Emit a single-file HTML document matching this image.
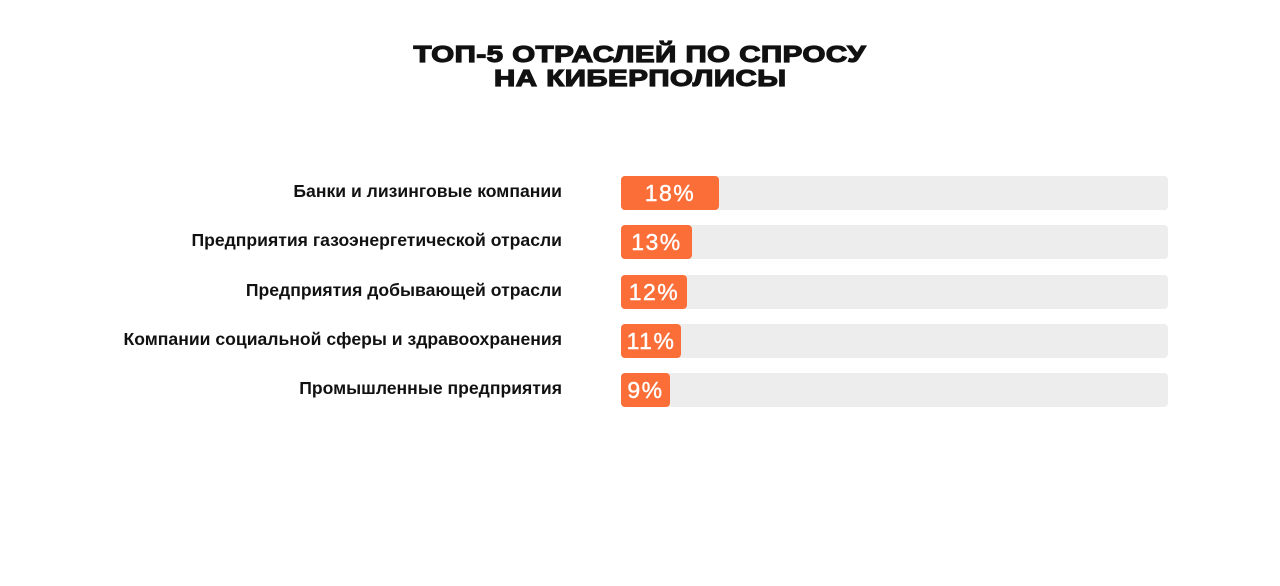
<!DOCTYPE html>
<html><head><meta charset="utf-8"><style>
body{margin:0;width:1280px;height:586px;background:#fff;font-family:"Liberation Sans",sans-serif;position:relative;overflow:hidden}
.t{position:absolute;left:0;width:1280px;text-align:center;font-weight:900;font-size:23px;color:#111;line-height:24px;-webkit-text-stroke:1.2px #111;letter-spacing:0.4px}
.t span{display:inline-block;transform:scaleX(1.28)}
.l{position:absolute;right:718px;font-weight:bold;font-size:17.6px;color:#111;white-space:nowrap;line-height:20px}
.tr{position:absolute;left:621px;width:547px;height:34px;background:#ededed;border-radius:4px}
.b{position:absolute;left:621px;height:34px;background:#fb6e38;border-radius:4px;color:#fff;font-size:23px;line-height:34px;text-align:center;letter-spacing:1.5px;-webkit-text-stroke:0.4px #fff}
</style></head><body>
<div class="t" style="top:42px"><span>ТОП-5 ОТРАСЛЕЙ ПО СПРОСУ</span></div>
<div class="t" style="top:66px"><span>НА КИБЕРПОЛИСЫ</span></div>

<div class="l" style="top:181px">Банки и лизинговые компании</div>
<div class="tr" style="top:176px"></div><div class="b" style="top:176px;width:98px">18%</div>

<div class="l" style="top:230px">Предприятия газоэнергетической отрасли</div>
<div class="tr" style="top:225px"></div><div class="b" style="top:225px;width:71px">13%</div>

<div class="l" style="top:280px">Предприятия добывающей отрасли</div>
<div class="tr" style="top:275px"></div><div class="b" style="top:275px;width:66px">12%</div>

<div class="l" style="top:329px">Компании социальной сферы и здравоохранения</div>
<div class="tr" style="top:324px"></div><div class="b" style="top:324px;width:60px">11%</div>

<div class="l" style="top:378px">Промышленные предприятия</div>
<div class="tr" style="top:373px"></div><div class="b" style="top:373px;width:49px">9%</div>
</body></html>
